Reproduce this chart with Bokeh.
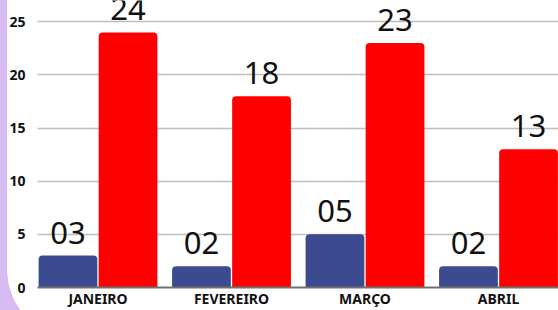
from bokeh.plotting import figure
from bokeh.models import ColumnDataSource, Range1d, FixedTicker
from bokeh.core.properties import value
from bokeh.embed import file_html
from bokeh.resources import INLINE

months = ["JANEIRO", "FEVEREIRO", "MARÇO", "ABRIL"]
serie_azul = [3, 2, 5, 2]
serie_vermelha = [24, 18, 23, 13]
y_ticks = [0, 5, 10, 15, 20, 25]

BLUE = "#3c4a8f"
RED = "#ff0000"
LAVENDER = "#d9bbf4"
OFF = 0.225
BW = 0.44

idx = list(range(len(months)))
src_b = ColumnDataSource(dict(x=[i - OFF for i in idx], top=serie_azul,
                              lab=["%02d" % v for v in serie_azul]))
src_r = ColumnDataSource(dict(x=[i + OFF for i in idx], top=serie_vermelha,
                              lab=["%02d" % v for v in serie_vermelha]))

p = figure(width=558, height=310, output_backend="svg", toolbar_location=None,
           x_range=Range1d(-0.4532, 3.4494), y_range=Range1d(0, 27.0),
           min_border_left=37, min_border_right=0, min_border_top=0, min_border_bottom=0)
p.outline_line_color = None
p.background_fill_color = "white"
p.border_fill_color = None
p.styles = {
    "background": (
        "radial-gradient(circle 68px at 75px 270px, #ffffff 67.5px, rgba(255,255,255,0) 68px), "
        "linear-gradient(#ffffff, #ffffff) 7px 0px / 551px 270px no-repeat, "
        "linear-gradient(#ffffff, #ffffff) 75px 0px / 483px 310px no-repeat, "
        + LAVENDER
    )
}

p.vbar(x="x", top="top", bottom=0, width=BW, source=src_b, fill_color=BLUE,
       line_color=None, border_radius=(4, 4, 0, 0))
p.vbar(x="x", top="top", bottom=0, width=BW, source=src_r, fill_color=RED,
       line_color=None, border_radius=(4, 4, 0, 0))

for src in (src_b, src_r):
    p.text(x="x", y="top", text="lab", source=src, text_align="center",
           text_baseline="alphabetic", y_offset=-23,
           text_font=value("Noto Sans"), text_font_size="31px", text_color="#111111")

p.xgrid.grid_line_color = None
p.ygrid.grid_line_color = "#bdbdbd"
p.ygrid.grid_line_width = 1.3
p.ygrid.ticker = FixedTicker(ticks=y_ticks)

p.yaxis.ticker = FixedTicker(ticks=y_ticks)
p.yaxis.axis_line_color = None
p.yaxis.major_tick_line_color = None
p.yaxis.minor_tick_line_color = None
p.yaxis.major_tick_out = 0
p.yaxis.major_tick_in = 0
p.yaxis.axis_label_standoff = 0
p.yaxis.major_label_standoff = 12
p.yaxis.major_label_text_font = "Noto Sans"
p.yaxis.major_label_text_font_style = "bold"
p.yaxis.major_label_text_font_size = "14px"
p.yaxis.major_label_text_color = "#111111"

p.xaxis.ticker = FixedTicker(ticks=idx)
p.xaxis.major_label_overrides = {i: m for i, m in zip(idx, months)}
p.xaxis.axis_line_color = "#707070"
p.xaxis.axis_line_width = 2
p.xaxis.major_tick_line_color = None
p.xaxis.minor_tick_line_color = None
p.xaxis.major_tick_out = 0
p.xaxis.major_tick_in = 0
p.xaxis.axis_label_standoff = 0
p.xaxis.major_label_standoff = 1
p.xaxis.major_label_text_font = "Noto Sans"
p.xaxis.major_label_text_font_style = "bold"
p.xaxis.major_label_text_font_size = "14px"
p.xaxis.major_label_text_color = "#111111"

open("out.html", "w").write(file_html(p, INLINE))
